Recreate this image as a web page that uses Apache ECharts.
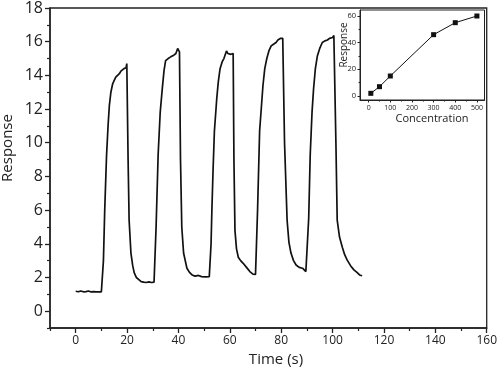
<!DOCTYPE html>
<html><head><meta charset="utf-8">
<script src="https://cdn.jsdelivr.net/npm/echarts@6/dist/echarts.min.js"></script>
<style>html,body{margin:0;padding:0;background:#fff}#c{width:500px;height:370px}</style>
</head><body><div id="c"></div>
<script>
// Main curve: time (s) and response
const timeS = [0,1,2,3,4,5,6,7,8,9,10,10.4,10.8,11.3,12,12.6,13.1,13.7,14.4,15,15.6,16.3,17,17.6,18.2,18.8,19.3,19.6,19.9,20.2,20.4,20.8,21.5,22.2,22.8,23.6,24.7,25.5,26.5,27.5,28.5,29.5,30.5,
30.9,31.3,32.1,32.9,33.7,34.4,35,36,37,38.2,39,39.4,39.7,40.1,40.4,40.8,41.3,42,43.3,44.3,45.3,46.5,47.8,49,50.5,52,
52.3,52.7,53,53.5,54,54.9,55.5,56.2,57,57.7,58.2,58.7,59.2,59.8,60.4,61,61.3,61.6,62,62.6,63.3,64.2,65.2,66.5,67.8,69,69.7,70,
70.3,70.8,71.6,72.9,73.6,74.4,75.2,76.1,77,78,78.7,79.3,79.8,80.3,80.6,80.9,81.3,82.3,83,83.8,84.8,85.8,87,88.3,89.6,90,
90.3,90.7,91.3,92,92.6,93.3,94.1,95,96,97,98,98.8,99.5,100,100.5,100.9,101.3,101.8,102.7,103.8,104.7,105.7,107,108.3,109.5,110.5,111.5];
const response = [1.18,1.15,1.2,1.15,1.16,1.2,1.14,1.16,1.15,1.15,1.15,1.2,3.0,6.0,9.2,11.0,12.2,13.0,13.5,13.7,13.9,14.0,14.1,14.25,14.3,14.4,14.5,14.45,14.7,14.6,9.0,5.4,3.45,2.7,2.27,2.0,1.86,1.75,1.72,1.7,1.74,1.7,1.72,
1.8,5.0,9.3,11.8,13.2,14.3,14.87,15.0,15.1,15.2,15.3,15.35,15.6,15.5,15.4,9.0,5.0,3.45,2.55,2.3,2.15,2.08,2.12,2.05,2.03,2.05,
2.1,4.0,5.9,8.5,10.7,12.6,13.6,14.4,14.8,15.0,15.1,15.45,15.3,15.4,15.25,15.35,15.3,9.0,4.8,3.7,3.2,3.0,2.84,2.6,2.35,2.2,2.15,2.18,
2.2,6.0,10.7,13.4,14.4,15.0,15.45,15.75,15.85,15.95,16.1,16.05,16.2,16.1,16.2,16.1,10.0,5.4,4.1,3.45,3.0,2.74,2.6,2.55,2.35,2.3,
2.3,5.5,9.3,11.8,13.2,14.4,15.17,15.6,15.95,16.05,16.1,16.2,16.3,16.25,16.37,16.3,10.0,5.4,4.4,3.8,3.35,3.03,2.7,2.45,2.3,2.15,2.1];

// Inset: concentration vs response
const concentration = [10,50,100,300,400,500];
const insetResponse = [2,7,15,46,55,60];

// Tick values
const xTicks = [0,20,40,60,80,100,120,140,160];
const xMinorTicks = [-10,10,30,50,70,90,110,130,150];
const yTicks = [0,2,4,6,8,10,12,14,16,18];
const yMinorTicks = [-1,1,3,5,7,9,11,13,15,17];
const insetXTicks = [0,100,200,300,400,500];
const insetXMinor = [50,150,250,350,450];
const insetYTicks = [0,20,40,60];
const insetYMinor = [10,30,50];

const F = '"Open Sans","Noto Sans",sans-serif';
const C = '#222';
const chart = echarts.init(document.getElementById('c'));

function ax(o){
  const a = Object.assign({type:'value', splitLine:{show:false}}, o);
  a.axisLine = Object.assign({onZero:false}, a.axisLine || {});
  return a;
}

chart.setOption({
  animation:false,
  grid:[
    {left:50,right:9,top:5,bottom:42,show:true,borderColor:C,borderWidth:1.3},
    {left:360,right:15.5,top:10,bottom:270,show:true,borderColor:C,borderWidth:1}
  ],
  xAxis:[
    ax({gridIndex:0,min:-10,max:160,position:'bottom',
      axisLine:{lineStyle:{color:C,width:1.5}},
      axisTick:{customValues:xTicks,length:5,lineStyle:{color:C,width:1.3}},
      axisLabel:{customValues:xTicks,fontSize:12,color:C,margin:7,fontFamily:F}}),
    ax({gridIndex:0,min:-10,max:160,position:'bottom',axisLine:{show:false},axisLabel:{show:false},
      axisTick:{customValues:xMinorTicks,length:3,lineStyle:{color:C,width:1.2}}}),
    ax({gridIndex:1,min:-40,max:535,position:'bottom',
      axisLine:{lineStyle:{color:C,width:1}},
      axisTick:{customValues:insetXTicks,length:2.5,lineStyle:{color:C,width:1}},
      axisLabel:{customValues:insetXTicks,fontSize:7,color:C,margin:4,fontFamily:F}}),
    ax({gridIndex:1,min:-40,max:535,position:'bottom',axisLine:{show:false},axisLabel:{show:false},
      axisTick:{customValues:insetXMinor,length:1.5,lineStyle:{color:C,width:1}}})
  ],
  yAxis:[
    ax({gridIndex:0,min:-1,max:18,position:'left',
      axisLine:{lineStyle:{color:C,width:1.5}},
      axisTick:{customValues:yTicks,length:5,lineStyle:{color:C,width:1.3}},
      axisLabel:{customValues:yTicks,fontSize:16,color:C,margin:7,fontFamily:F}}),
    ax({gridIndex:0,min:-1,max:18,position:'left',axisLine:{show:false},axisLabel:{show:false},
      axisTick:{customValues:yMinorTicks,length:3,lineStyle:{color:C,width:1.2}}}),
    ax({gridIndex:1,min:-3,max:64.5,position:'left',
      axisLine:{lineStyle:{color:C,width:1}},
      axisTick:{customValues:insetYTicks,length:2.5,lineStyle:{color:C,width:1}},
      axisLabel:{customValues:insetYTicks,fontSize:7.5,color:C,margin:4,fontFamily:F}}),
    ax({gridIndex:1,min:-3,max:64.5,position:'left',axisLine:{show:false},axisLabel:{show:false},
      axisTick:{customValues:insetYMinor,length:1.5,lineStyle:{color:C,width:1}}})
  ],
  series:[
    {type:'line',xAxisIndex:0,yAxisIndex:0,showSymbol:false,symbol:'none',
      data:timeS.map((t,i)=>[t,response[i]]),
      lineStyle:{color:'#111',width:1.7}},
    {type:'line',xAxisIndex:2,yAxisIndex:2,symbol:'rect',symbolSize:5,
      data:concentration.map((c,i)=>[c,insetResponse[i]]),
      itemStyle:{color:'#111'},lineStyle:{color:'#111',width:1}}
  ],
  graphic:[
    {type:'text',x:8,y:148,rotation:Math.PI/2,style:{text:'Response',font:'15px '+F,fill:C,align:'center',verticalAlign:'middle'}},
    {type:'text',x:276,y:360,style:{text:'Time (s)',font:'15px '+F,fill:C,align:'center',verticalAlign:'middle'}},
    {type:'text',x:432,y:119,style:{text:'Concentration',font:'11px '+F,fill:C,align:'center',verticalAlign:'middle'}},
    {type:'text',x:344,y:45,rotation:Math.PI/2,style:{text:'Response',font:'10px '+F,fill:C,align:'center',verticalAlign:'middle'}}
  ]
});
</script></body></html>
